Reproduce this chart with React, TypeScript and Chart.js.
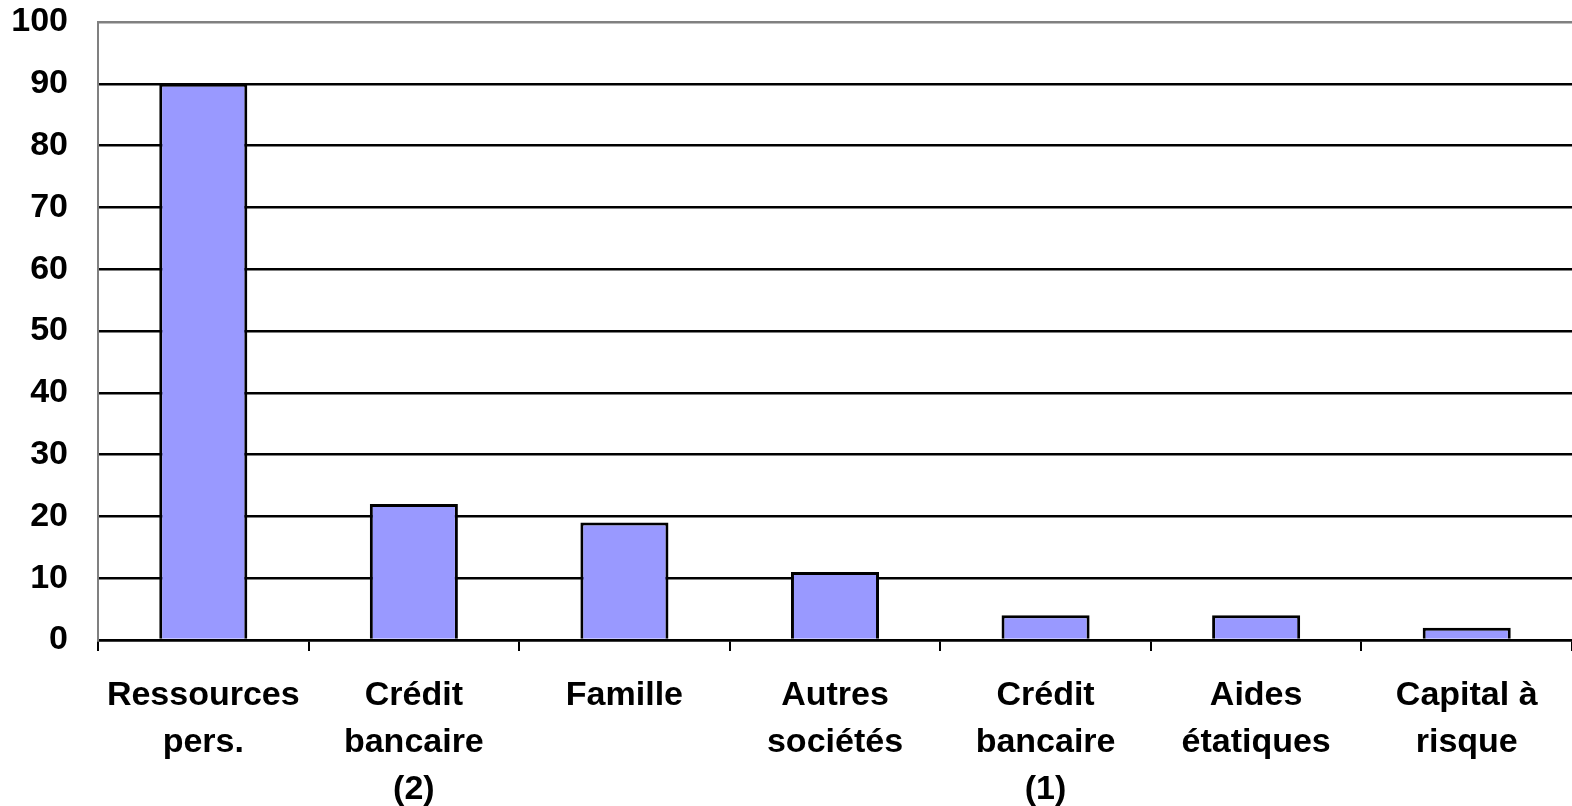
import React, { useEffect, useRef } from "react";
import { Chart, registerables } from "chart.js";

Chart.register(...registerables);

const categories: string[][] = [
  ["Ressources", "pers."],
  ["Crédit", "bancaire", "(2)"],
  ["Famille"],
  ["Autres", "sociétés"],
  ["Crédit", "bancaire", "(1)"],
  ["Aides", "étatiques"],
  ["Capital à", "risque"],
];
const values: number[] = [90, 22, 19, 11, 4, 4, 2];
const yMin = 0;
const yMax = 100;
const yStep = 10;

export default function App() {
  const ref = useRef<HTMLCanvasElement | null>(null);
  useEffect(() => {
    if (!ref.current) return;
    const chart = new Chart(ref.current, {
      type: "bar",
      data: {
        labels: categories,
        datasets: [
          {
            data: values,
            backgroundColor: "#9999FF",
            borderColor: "#000000",
            borderWidth: 3,
            borderSkipped: "bottom",
            categoryPercentage: 0.82,
            barPercentage: 0.51,
          },
        ],
      },
      options: {
        animation: false,
        responsive: false,
        maintainAspectRatio: false,
        layout: { padding: { top: 22, right: 0, left: 0, bottom: 0 } },
        plugins: { legend: { display: false }, tooltip: { enabled: false } },
        scales: {
          x: {
            offset: true,
            border: { color: "#000000", width: 2.5 },
            grid: {
              offset: true,
              drawOnChartArea: false,
              drawTicks: true,
              tickLength: 11,
              color: "#000000",
              lineWidth: 2,
            },
            ticks: {
              color: "#000000",
              font: { family: "Liberation Sans, Arial", size: 34, weight: "bold", lineHeight: 1.38 },
              padding: 21,
              maxRotation: 0,
              autoSkip: false,
            },
            afterFit: (s: any) => {
              s.height = 166;
              s.paddingLeft = 0;
              s.paddingRight = 0;
            },
          },
          y: {
            min: yMin,
            max: yMax,
            border: { color: "#808080", width: 2 },
            grid: {
              drawTicks: false,
              color: (ctx: any) => (ctx.tick && ctx.tick.value === yMax ? "#808080" : "#000000"),
              lineWidth: 2.5,
            },
            ticks: {
              stepSize: yStep,
              color: "#000000",
              font: { family: "Liberation Sans, Arial", size: 34, weight: "bold" },
              padding: 30,
            },
            afterFit: (s: any) => {
              s.width = 98;
              s.paddingTop = 0;
              s.paddingBottom = 0;
            },
          },
        },
      },
    });
    return () => chart.destroy();
  }, []);
  return (
    <div style={{ position: "fixed", left: 0, top: 0, width: 1572, height: 806, background: "#fff" }}>
      <canvas ref={ref} width={1572} height={806} style={{ width: 1572, height: 806 }} />
    </div>
  );
}
